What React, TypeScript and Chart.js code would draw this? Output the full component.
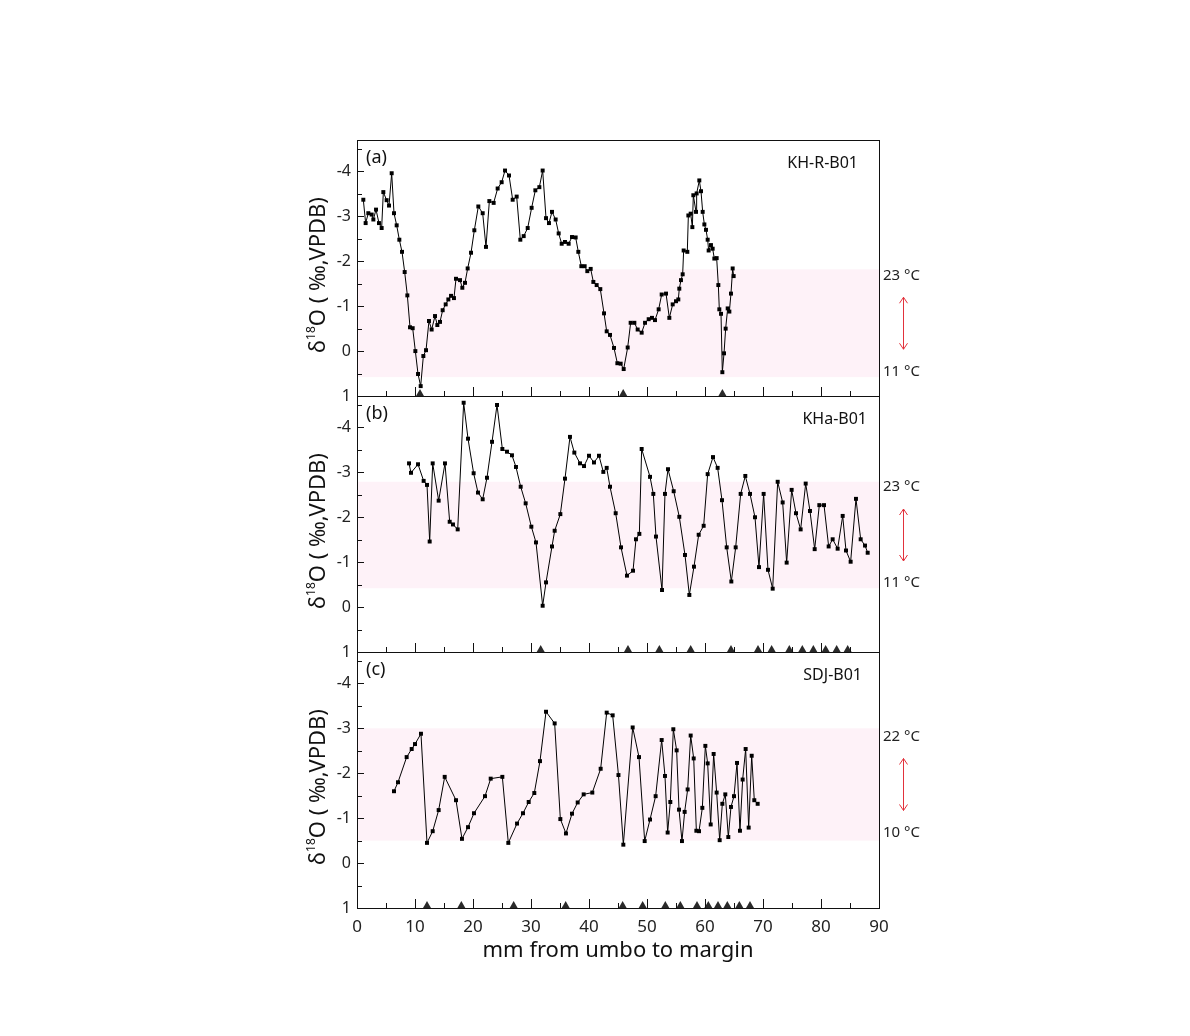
import React, { useEffect, useRef } from 'react';
import { Chart, registerables } from 'chart.js';

Chart.register(...registerables);

// ---------------- data ----------------
const xA = [1.09,1.49,1.95,2.53,2.82,3.28,3.79,4.25,4.54,5.11,5.52,5.98,6.38,6.84,7.30,7.76,8.22,8.68,9.14,9.60,10.06,10.52,10.98,11.44,11.90,12.41,12.87,13.45,13.85,14.31,14.77,15.29,15.75,16.21,16.72,17.07,17.76,18.16,18.62,19.08,19.66,20.23,20.92,21.67,22.24,22.82,23.56,24.25,24.94,25.52,26.21,26.84,27.53,28.16,28.74,29.43,30.11,30.75,31.44,32.01,32.59,33.10,33.62,34.25,34.77,35.29,35.86,36.49,37.07,37.70,38.16,38.68,39.25,39.71,40.29,40.75,41.32,41.95,42.59,43.05,43.62,44.31,44.89,45.46,45.98,46.67,47.18,47.82,48.39,49.08,49.66,50.29,50.86,51.38,52.01,52.53,53.28,53.85,54.43,55.00,55.40,55.57,55.86,56.15,56.32,56.95,57.13,57.53,57.82,57.99,58.45,58.56,59.02,59.31,59.60,59.89,60.17,60.46,60.63,61.03,61.32,61.61,62.01,62.30,62.47,62.76,62.99,63.28,63.56,63.91,64.20,64.48,64.77,64.94];
const yA = [-3.37,-2.85,-3.07,-3.04,-2.93,-3.15,-2.85,-2.74,-3.54,-3.36,-3.24,-3.96,-3.07,-2.80,-2.48,-2.21,-1.76,-1.24,-0.53,-0.51,0.00,0.51,0.78,0.11,-0.02,-0.67,-0.48,-0.78,-0.58,-0.65,-0.91,-1.04,-1.15,-1.23,-1.18,-1.61,-1.58,-1.41,-1.52,-1.84,-2.19,-2.69,-3.22,-3.07,-2.32,-3.34,-3.30,-3.62,-3.76,-4.02,-3.91,-3.37,-3.44,-2.48,-2.56,-2.74,-3.19,-3.58,-3.65,-4.02,-2.96,-2.85,-3.10,-2.93,-2.62,-2.39,-2.43,-2.39,-2.54,-2.53,-2.21,-1.89,-1.89,-1.78,-1.83,-1.54,-1.47,-1.38,-0.84,-0.44,-0.36,-0.07,0.27,0.28,0.40,-0.08,-0.63,-0.63,-0.48,-0.41,-0.63,-0.71,-0.74,-0.69,-0.93,-1.26,-1.28,-0.74,-1.04,-1.11,-1.15,-1.39,-1.58,-1.71,-2.24,-2.21,-3.02,-3.06,-2.76,-3.47,-3.10,-3.51,-3.80,-3.56,-3.10,-2.82,-2.70,-2.48,-2.24,-2.36,-2.28,-2.06,-2.07,-1.47,-0.93,-0.83,0.47,0.05,-0.50,-0.95,-0.88,-1.28,-1.84,-1.67];

const xB = [8.97,9.31,10.52,11.49,12.07,12.53,13.05,14.08,15.17,15.98,16.55,17.36,18.39,19.14,20.11,20.86,21.67,22.41,23.28,24.14,25.06,25.86,26.72,27.41,28.22,29.08,30.06,30.86,32.01,32.59,33.62,34.08,35.06,35.86,36.72,37.47,38.45,39.14,40.00,40.86,41.72,42.47,43.05,43.62,44.60,45.52,46.55,47.59,48.10,48.68,49.08,50.52,51.09,51.55,52.59,53.10,53.62,54.60,55.57,56.55,57.30,58.10,58.91,59.77,60.46,61.38,62.18,62.93,63.74,64.54,65.29,66.15,66.95,67.76,68.62,69.31,70.11,70.86,71.67,72.53,73.39,74.08,74.94,75.69,76.49,77.36,78.10,78.91,79.71,80.52,81.32,82.01,82.87,83.74,84.31,85.11,86.03,86.84,87.59,88.05];
const yB = [-3.20,-2.99,-3.18,-2.81,-2.72,-1.46,-3.20,-2.37,-3.20,-1.90,-1.84,-1.73,-4.55,-3.75,-2.98,-2.55,-2.40,-2.88,-3.68,-4.50,-3.52,-3.46,-3.38,-3.12,-2.68,-2.31,-1.79,-1.44,-0.03,-0.55,-1.35,-1.70,-2.07,-2.86,-3.79,-3.44,-3.20,-3.14,-3.37,-3.22,-3.37,-3.01,-3.10,-2.68,-2.09,-1.33,-0.70,-0.81,-1.51,-1.63,-3.52,-2.90,-2.52,-1.57,-0.38,-2.52,-3.07,-2.58,-2.01,-1.16,-0.27,-0.90,-1.61,-1.81,-2.96,-3.34,-3.10,-2.38,-1.33,-0.57,-1.33,-2.52,-2.92,-2.52,-2.00,-0.89,-2.52,-0.83,-0.41,-2.79,-2.33,-0.99,-2.61,-2.09,-1.73,-2.75,-2.14,-1.29,-2.27,-2.27,-1.35,-1.51,-1.30,-2.03,-1.26,-1.01,-2.41,-1.51,-1.37,-1.21];

const xC = [6.38,7.07,8.56,9.43,10.00,11.03,12.07,13.05,14.08,15.12,17.07,18.10,19.14,20.17,22.07,23.05,25.06,26.09,27.59,28.62,29.60,30.57,31.55,32.59,34.08,35.06,36.03,37.07,38.05,39.08,40.57,42.01,43.05,44.08,45.08,45.92,47.53,48.62,49.60,50.52,51.49,52.53,53.10,53.56,54.02,54.54,55.11,55.52,56.03,56.49,57.01,57.53,58.05,58.51,58.97,59.54,60.06,60.46,60.98,61.49,62.01,62.53,62.99,63.50,64.02,64.48,65.00,65.52,66.03,66.49,67.01,67.53,68.05,68.50,69.08];
const yC = [-1.60,-1.80,-2.36,-2.54,-2.65,-2.88,-0.45,-0.71,-1.18,-1.92,-1.40,-0.54,-0.80,-1.11,-1.49,-1.88,-1.92,-0.45,-0.88,-1.11,-1.36,-1.56,-2.27,-3.37,-3.11,-0.98,-0.66,-1.10,-1.35,-1.53,-1.57,-2.10,-3.35,-3.29,-1.96,-0.41,-3.02,-2.36,-0.49,-0.97,-1.49,-2.74,-1.94,-0.68,-1.36,-2.98,-2.51,-1.19,-0.49,-1.14,-1.64,-2.84,-2.33,-0.72,-0.71,-1.23,-2.61,-2.22,-0.86,-2.43,-1.57,-0.51,-1.32,-1.53,-0.58,-1.25,-1.49,-2.23,-0.72,-1.86,-2.54,-0.79,-2.39,-1.40,-1.32];

// growth-line markers (triangles on the bottom axis)
const triA = [10.86, 45.9, 63.0];
const triB = [31.67, 46.72, 52.13, 57.53, 64.48, 69.14, 71.49, 74.54, 76.78, 78.68, 80.8, 82.7, 84.6];
const triC = [12.07, 17.99, 27.01, 35.98, 45.8, 49.25, 53.16, 55.75, 58.62, 60.57, 62.24, 63.85, 65.92, 67.76];

// temperature bands (δ18O range) and their labels
const bandA = [-1.82, 0.58];
const bandB = [-2.79, -0.42];
const bandC = [-3.0, -0.5];
const tempA = ['23 °C', '11 °C'];
const tempB = ['23 °C', '11 °C'];
const tempC = ['22 °C', '10 °C'];

const panelTags = ['(a)', '(b)', '(c)'];
const specimenNames = ['KH-R-B01', 'KHa-B01', 'SDJ-B01'];

const X_TICK_LABELS = [0, 10, 20, 30, 40, 50, 60, 70, 80, 90];
const Y_TICK_LABELS = [-4, -3, -2, -1, 0, 1];
const X_TITLE = 'mm from umbo to margin';

// ---------------- layout / style ----------------
const W = 1190, H = 1036;
const PLOT_LEFT = 357, PLOT_RIGHT = 879;
const PANEL_TOPS = [140, 396, 652];
const PANEL_H = 256;
const Y_MIN = -4.7, Y_MAX = 1;
const FONT = "'Noto Sans', 'DejaVu Sans', sans-serif";
const BAND_COLOR = 'rgb(254,242,248)';
const ARROW_COLOR = '#e2323c';
const TRI_R = 4.6;

const seriesX = [xA, xB, xC];
const seriesY = [yA, yB, yC];
const tris = [triA, triB, triC];
const bands = [bandA, bandB, bandC];
const temps = [tempA, tempB, tempC];
const nameRight = [858, 867, 862];

function drawYTitle(ctx: CanvasRenderingContext2D, cx: number, cy: number) {
  ctx.save();
  ctx.translate(cx, cy);
  ctx.rotate(-Math.PI / 2);
  const big = `22px ${FONT}`;
  const small = `12px ${FONT}`;
  const parts = [
    { t: 'δ', f: big, dy: 0 },
    { t: '18', f: small, dy: -10 },
    { t: 'O ( ‰,VPDB)', f: big, dy: 0 },
  ];
  let total = 0;
  const widths = parts.map((p) => {
    ctx.font = p.f;
    const w = ctx.measureText(p.t).width;
    total += w;
    return w;
  });
  let x = -total / 2;
  ctx.fillStyle = '#111';
  ctx.textBaseline = 'alphabetic';
  ctx.textAlign = 'left';
  parts.forEach((p, i) => {
    ctx.font = p.f;
    ctx.fillText(p.t, x, 8 + p.dy);
    x += widths[i];
  });
  ctx.restore();
}

function makePlugin(idx: number) {
  return {
    id: 'panelDeco' + idx,
    beforeDatasetsDraw(chart: any) {
      const { ctx, chartArea: ca, scales } = chart;
      const y = scales.y;
      const [b0, b1] = bands[idx];
      const p0 = y.getPixelForValue(b0);
      const p1 = y.getPixelForValue(b1);
      ctx.save();
      ctx.fillStyle = BAND_COLOR;
      ctx.fillRect(ca.left, Math.min(p0, p1), ca.right - ca.left, Math.abs(p1 - p0));
      ctx.restore();
    },
    afterDraw(chart: any) {
      const { ctx, chartArea: ca, scales } = chart;
      const x = scales.x;
      const y = scales.y;
      ctx.save();
      // frame
      ctx.strokeStyle = '#111';
      ctx.lineWidth = 1;
      ctx.strokeRect(Math.round(ca.left) + 0.5, Math.round(ca.top) + 0.5, Math.round(ca.right - ca.left), Math.round(ca.bottom - ca.top));
      // x ticks (inward, bottom)
      ctx.beginPath();
      for (let v = 5; v < 90; v += 5) {
        const px = Math.round(x.getPixelForValue(v)) + 0.5;
        const len = v % 10 === 0 ? 9 : 5;
        ctx.moveTo(px, ca.bottom);
        ctx.lineTo(px, ca.bottom - len);
      }
      // y ticks (inward, left)
      for (let v = -4.5; v <= 0.5; v += 0.5) {
        const py = Math.round(y.getPixelForValue(v)) + 0.5;
        const len = Number.isInteger(v) ? 7 : 5;
        ctx.moveTo(ca.left, py);
        ctx.lineTo(ca.left + len, py);
      }
      ctx.stroke();

      // panel tag and specimen name
      ctx.fillStyle = '#111';
      ctx.textBaseline = 'middle';
      ctx.font = `18px ${FONT}`;
      ctx.textAlign = 'left';
      ctx.fillText(panelTags[idx], ca.left + 9, ca.top + 18);
      ctx.font = `16px ${FONT}`;
      ctx.textAlign = 'right';
      ctx.fillText(specimenNames[idx], nameRight[idx], ca.top + 23);

      // temperature labels + red double arrow
      const [b0, b1] = bands[idx];
      const mid = (y.getPixelForValue(b0) + y.getPixelForValue(b1)) / 2;
      ctx.font = `15px ${FONT}`;
      ctx.textAlign = 'left';
      ctx.fillStyle = '#222';
      ctx.fillText(temps[idx][0], ca.right + 4, mid - 48);
      ctx.fillText(temps[idx][1], ca.right + 4, mid + 48);
      const ax = 903.5;
      const t = mid - 26, b = mid + 26;
      ctx.strokeStyle = ARROW_COLOR;
      ctx.lineWidth = 1;
      ctx.beginPath();
      ctx.moveTo(ax, t);
      ctx.lineTo(ax, b);
      ctx.moveTo(ax - 4, t + 6);
      ctx.lineTo(ax, t);
      ctx.lineTo(ax + 4, t + 6);
      ctx.moveTo(ax - 4, b - 6);
      ctx.lineTo(ax, b);
      ctx.lineTo(ax + 4, b - 6);
      ctx.stroke();

      // y title
      drawYTitle(ctx, 317, (ca.top + ca.bottom) / 2 + 7);
      ctx.restore();
    },
  };
}

function makeConfig(idx: number): any {
  const top = PANEL_TOPS[idx];
  const bottom = top + PANEL_H;
  const isLast = idx === 2;
  const xAxisH = 56;
  const padBottom = isLast ? H - bottom - xAxisH : H - bottom;
  const triY = Y_MAX - (TRI_R / 2) / (PANEL_H / (Y_MAX - Y_MIN));
  return {
    type: 'line',
    data: {
      datasets: [
        {
          type: 'line',
          data: seriesX[idx].map((v, i) => ({ x: v, y: seriesY[idx][i] })),
          borderColor: '#000',
          borderWidth: 1,
          pointStyle: 'rect',
          pointRadius: 2.8,
          pointBackgroundColor: '#000',
          pointBorderColor: '#000',
          pointBorderWidth: 0,
          tension: 0,
          fill: false,
          clip: false,
        },
        {
          type: 'scatter',
          data: tris[idx].map((v) => ({ x: v, y: triY })),
          showLine: false,
          pointStyle: 'triangle',
          pointRadius: TRI_R,
          pointBackgroundColor: '#2a2a2a',
          pointBorderColor: '#2a2a2a',
          pointBorderWidth: 0,
          clip: false,
        },
      ],
    },
    options: {
      responsive: false,
      animation: false,
      devicePixelRatio: 1,
      events: [],
      layout: {
        padding: { left: PLOT_LEFT - 50, right: W - PLOT_RIGHT, top, bottom: padBottom },
      },
      plugins: { legend: { display: false }, tooltip: { enabled: false } },
      scales: {
        x: {
          type: 'linear',
          min: 0,
          max: 90,
          display: isLast,
          afterFit: (s: any) => {
            s.height = isLast ? xAxisH : 0;
          },
          afterBuildTicks: (s: any) => {
            s.ticks = X_TICK_LABELS.map((v) => ({ value: v }));
          },
          grid: { display: false, drawTicks: false },
          border: { display: false },
          ticks: {
            font: { family: FONT, size: 17 },
            color: '#222',
            padding: 9,
            maxRotation: 0,
            autoSkip: false,
            callback: (v: any) => String(v),
          },
          title: {
            display: true,
            text: X_TITLE,
            font: { family: FONT, size: 22 },
            color: '#111',
            padding: { top: 0, bottom: 0 },
          },
        },
        y: {
          type: 'linear',
          reverse: true,
          min: Y_MIN,
          max: Y_MAX,
          afterFit: (s: any) => {
            s.width = 50;
          },
          afterBuildTicks: (s: any) => {
            s.ticks = Y_TICK_LABELS.map((v) => ({ value: v }));
          },
          grid: { display: false, drawTicks: false },
          border: { display: false },
          ticks: {
            font: { family: FONT, size: 16 },
            color: '#222',
            padding: 6,
            autoSkip: false,
            callback: (v: any) => String(v),
          },
        },
      },
    },
    plugins: [makePlugin(idx)],
  };
}

export default function App() {
  const r0 = useRef<HTMLCanvasElement>(null);
  const r1 = useRef<HTMLCanvasElement>(null);
  const r2 = useRef<HTMLCanvasElement>(null);
  const refs = [r0, r1, r2];
  useEffect(() => {
    document.body.style.margin = '0';
    const charts = refs.map((r, i) => new Chart(r.current as HTMLCanvasElement, makeConfig(i)));
    return () => charts.forEach((c) => c.destroy());
  }, []);
  return (
    <div style={{ position: 'absolute', left: 0, top: 0, width: W, height: H, background: '#fff' }}>
      {refs.map((r, i) => (
        <canvas
          key={i}
          ref={r}
          width={W}
          height={H}
          style={{ position: 'absolute', left: 0, top: 0, width: W, height: H }}
        />
      ))}
    </div>
  );
}
